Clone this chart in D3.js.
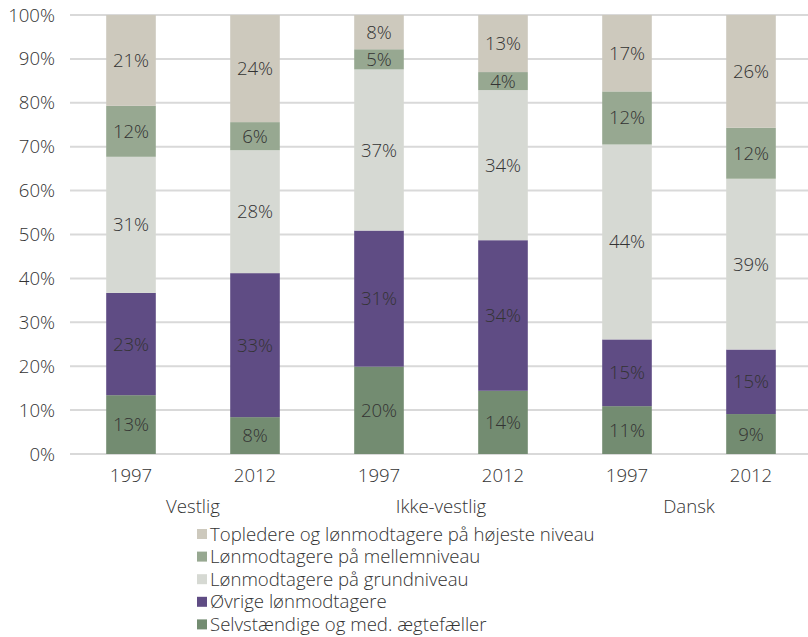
<!DOCTYPE html>
<html>
<head>
<meta charset="utf-8">
<script src="https://cdn.jsdelivr.net/npm/d3@7"></script>
<style>
body { margin:0; background:#fff; }
text { font-family: "Open Sans", Roboto, sans-serif; font-weight:300; fill:#333; font-size:18.6px; }
</style>
</head>
<body>
<div id="chart"></div>
<script>
var width = 808, height = 637;

// bars: group / year
var groups = ['Vestlig', 'Ikke-vestlig', 'Dansk'];
var years = ['1997', '2012'];
var bars = ['Vestlig|1997','Vestlig|2012','Ikke-vestlig|1997','Ikke-vestlig|2012','Dansk|1997','Dansk|2012'];

// series, bottom to top
var seriesNames = ['Selvstændige og med. ægtefæller', 'Øvrige lønmodtagere', 'Lønmodtagere på grundniveau', 'Lønmodtagere på mellemniveau', 'Topledere og lønmodtagere på højeste niveau'];
var seriesColors = ['#738c71', '#5f4c84', '#d6d9d3', '#97a891', '#cdc9bd'];

var selv    = [13.4,  8.4, 19.9, 14.4, 10.9,  9.1];
var ovrige  = [23.3, 32.8, 31.0, 34.3, 15.2, 14.7];
var grund   = [31.0, 28.0, 36.7, 34.2, 44.4, 38.9];
var mellem  = [11.6,  6.4,  4.6,  4.1, 12.1, 11.6];
var top_    = [20.7, 24.4,  7.8, 13.0, 17.4, 25.7];
var seriesVals = [selv, ovrige, grund, mellem, top_];

var yTicks = [0,10,20,30,40,50,60,70,80,90,100];

var margin = {top:15, left:69, right:813, bottom:454};

var svg = d3.select('#chart').append('svg')
	.attr('width', width)
	.attr('height', height);

var x = d3.scaleBand().domain(bars).range([margin.left, margin.right]).paddingInner(0.6).paddingOuter(0.3);
var y = d3.scaleLinear().domain([0,100]).range([margin.bottom, margin.top]);

// grid
svg.append('g').selectAll('line')
	.data(yTicks)
	.enter().append('line')
	.attr('x1', 70).attr('x2', width)
	.attr('y1', function(d){ return y(d); })
	.attr('y2', function(d){ return y(d); })
	.style('stroke', '#d9d9d9')
	.style('stroke-width', 2);

svg.append('g').selectAll('text')
	.data(yTicks)
	.enter().append('text')
	.attr('x', 55)
	.attr('y', function(d){ return y(d); })
	.attr('dy', '0.35em')
	.attr('text-anchor', 'end')
	.text(function(d){ return d + '%'; });

// stack
var rows = bars.map(function(b, i){
	var r = {bar: b};
	seriesNames.forEach(function(s, j){ r[s] = seriesVals[j][i]; });
	return r;
});
var stacked = d3.stack().keys(seriesNames)(rows);

var layer = svg.append('g').selectAll('g')
	.data(stacked)
	.enter().append('g')
	.style('fill', function(d, i){ return seriesColors[i]; });

layer.selectAll('rect')
	.data(function(d){ return d; })
	.enter().append('rect')
	.attr('x', function(d){ return x(d.data.bar); })
	.attr('width', x.bandwidth())
	.attr('y', function(d){ return y(d[1]); })
	.attr('height', function(d){ return y(d[0]) - y(d[1]); });

layer.selectAll('text')
	.data(function(d){ return d; })
	.enter().append('text')
	.attr('x', function(d){ return x(d.data.bar) + x.bandwidth()/2; })
	.attr('y', function(d){ return (y(d[0]) + y(d[1]))/2; })
	.attr('dy', '0.35em')
	.attr('text-anchor', 'middle')
	.style('fill', '#333')
	.text(function(d){ return Math.round(d[1]-d[0]) + '%'; });

// x labels
svg.append('g').selectAll('text')
	.data(bars)
	.enter().append('text')
	.attr('x', function(d){ return x(d) + x.bandwidth()/2; })
	.attr('y', 475)
	.attr('dy', '0.35em')
	.attr('text-anchor', 'middle')
	.text(function(d){ return d.split('|')[1]; });

svg.append('g').selectAll('text')
	.data(groups)
	.enter().append('text')
	.attr('x', function(g){ return (x(g + '|1997') + x(g + '|2012') + x.bandwidth())/2; })
	.attr('y', 506)
	.attr('dy', '0.35em')
	.attr('text-anchor', 'middle')
	.text(function(d){ return d; });

// legend, top series first
var legendOrder = [4,3,2,1,0];
var legend = svg.append('g').selectAll('g')
	.data(legendOrder)
	.enter().append('g')
	.attr('transform', function(d, i){ return 'translate(197,' + (534 + i*22.6) + ')'; });

legend.append('rect')
	.attr('x', 0).attr('y', -5)
	.attr('width', 10).attr('height', 10)
	.style('fill', function(d){ return seriesColors[d]; });

legend.append('text')
	.attr('x', 13)
	.attr('dy', '0.35em')
	.text(function(d){ return seriesNames[d]; });
</script>
</body>
</html>
